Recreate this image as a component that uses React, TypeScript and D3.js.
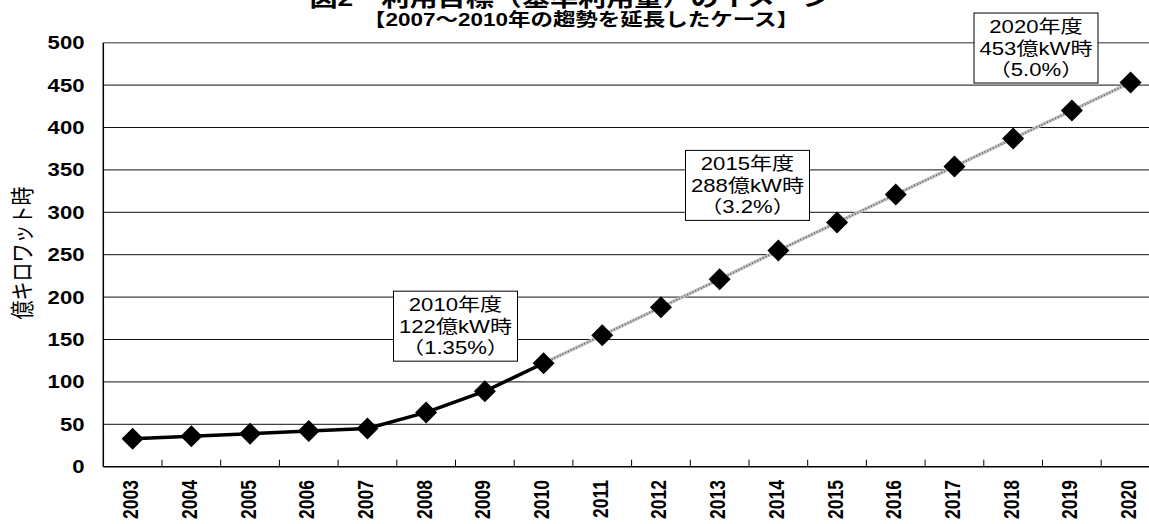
import React, { useEffect, useRef } from 'react';
import * as d3 from 'd3';

// data
const years = ['2003', '2004', '2005', '2006', '2007', '2008', '2009', '2010', '2011',
    '2012', '2013', '2014', '2015', '2016', '2017', '2018', '2019', '2020'];
const values = [33, 36, 39, 42, 45, 64, 89, 122, 155, 188, 221, 255, 288, 321, 354, 387, 420, 453];
const trendStart = '2010';
const yTicks = [0, 50, 100, 150, 200, 250, 300, 350, 400, 450, 500];

const titleText = '図2　利用目標（基準利用量）のイメージ';
const subtitleText = '【2007～2010年の趨勢を延長したケース】';
const yAxisLabel = '億キロワット時';

const calloutYears = ['2009', '2014', '2019'];
const calloutTops = [207, 373, 535];
const calloutLines = [
    ['2010年度', '122億kW時', '（1.35%）'],
    ['2015年度', '288億kW時', '（3.2%）'],
    ['2020年度', '453億kW時', '（5.0%）'],
];

const W = 1149;
const H = 524;
const FONT = "'Liberation Sans', 'Noto Sans CJK JP', sans-serif";
const SX = 1.25; // the reference is stretched horizontally

const App: React.FC = () => {
    const svgRef = useRef<SVGSVGElement>(null);

    useEffect(() => {
        if (!svgRef.current) return;
        const svg = d3.select(svgRef.current);
        svg.selectAll('*').remove();

        const left = 103.3;
        const step = 58.7;
        const top = 42.7;
        const bottom = 466.7;

        const x = d3.scaleBand<string>().domain(years).range([left, left + step * years.length]).padding(0);
        const y = d3.scaleLinear().domain([0, 500]).range([bottom, top]);
        const cx = (yr: string) => (x(yr) ?? 0) + x.bandwidth() / 2;

        svg.append('rect').attr('width', W).attr('height', H).attr('fill', '#fff');

        // title (its top is cut by the frame, as in the source)
        svg.append('text')
            .attr('transform', `translate(570,6) scale(${SX},1)`)
            .attr('text-anchor', 'middle')
            .style('font-family', FONT)
            .style('font-size', '22.5px')
            .style('font-weight', 'bold')
            .text(titleText);

        svg.append('text')
            .attr('transform', `translate(581,26) scale(${SX},1)`)
            .attr('text-anchor', 'middle')
            .style('font-family', FONT)
            .style('font-size', '18px')
            .style('font-weight', 'bold')
            .text(subtitleText);

        // gridlines
        svg.append('g')
            .selectAll('line')
            .data(yTicks.filter(d => d > 0))
            .join('line')
            .attr('x1', left)
            .attr('x2', W + 20)
            .attr('y1', d => y(d))
            .attr('y2', d => y(d))
            .attr('stroke', d => (d === 500 ? '#777' : '#111'))
            .attr('stroke-width', d => (d === 500 ? 1.5 : 1));

        // axes
        svg.append('line')
            .attr('x1', left).attr('x2', left)
            .attr('y1', y(500)).attr('y2', y(0))
            .attr('stroke', '#000').attr('stroke-width', 1.5);
        svg.append('line')
            .attr('x1', left).attr('x2', W + 20)
            .attr('y1', y(0)).attr('y2', y(0))
            .attr('stroke', '#000').attr('stroke-width', 1.5);

        svg.append('g')
            .selectAll('line')
            .data(years.slice(1))
            .join('line')
            .attr('x1', d => x(d) ?? 0)
            .attr('x2', d => x(d) ?? 0)
            .attr('y1', y(0))
            .attr('y2', y(0) - 7)
            .attr('stroke', '#000')
            .attr('stroke-width', 1);

        // y tick labels
        svg.append('g')
            .selectAll('text')
            .data(yTicks)
            .join('text')
            .attr('transform', d => `translate(84.5,${y(d) + 6.4}) scale(${SX},1)`)
            .attr('text-anchor', 'end')
            .style('font-family', FONT)
            .style('font-size', '17.7px')
            .style('font-weight', 'bold')
            .text(d => d);

        // x tick labels
        svg.append('g')
            .selectAll('text')
            .data(years)
            .join('text')
            .attr('transform', d => `translate(${cx(d) + 5.5},480) scale(${SX},1) rotate(-90)`)
            .attr('text-anchor', 'end')
            .style('font-family', FONT)
            .style('font-size', '17.5px')
            .style('font-weight', 'bold')
            .text(d => d);

        // y axis title
        svg.append('text')
            .attr('transform', `translate(31,253) scale(${SX},1) rotate(-90)`)
            .attr('text-anchor', 'middle')
            .style('font-family', FONT)
            .style('font-size', '19px')
            .text(yAxisLabel);

        const pts = years.map((yr, i) => ({ yr, v: values[i], i }));
        const split = years.indexOf(trendStart);
        const line = d3.line<{ yr: string; v: number }>().x(d => cx(d.yr)).y(d => y(d.v));

        // trend part (dotted texture)
        const trend = pts.slice(split);
        svg.append('path')
            .attr('d', line(trend))
            .attr('fill', 'none')
            .attr('stroke', '#c4c4c4')
            .attr('stroke-width', 3.5);
        svg.append('path')
            .attr('d', line(trend))
            .attr('fill', 'none')
            .attr('stroke', '#666')
            .attr('stroke-width', 2)
            .attr('stroke-dasharray', '1 2');

        // actual part
        svg.append('path')
            .attr('d', line(pts.slice(0, split + 1)))
            .attr('fill', 'none')
            .attr('stroke', '#000')
            .attr('stroke-width', 3.5)
            .attr('stroke-linejoin', 'round');

        // markers
        const diamond = d3.symbol().type(d3.symbolSquare).size(242);
        svg.append('g')
            .selectAll('path')
            .data(pts)
            .join('path')
            .attr('d', diamond()!)
            .attr('transform', d => `translate(${cx(d.yr)},${y(d.v)}) rotate(45)`)
            .attr('fill', '#000');

        // callout boxes
        const dxs = [0, -1.5, -6.5];
        calloutYears.forEach((yr, k) => {
            const bx = (x(yr) ?? 0) + dxs[k];
            const by = y(calloutTops[k]);
            const g = svg.append('g');
            g.append('rect')
                .attr('x', bx - 62)
                .attr('y', by)
                .attr('width', 124)
                .attr('height', 70)
                .attr('fill', '#fff')
                .attr('stroke', '#000')
                .attr('stroke-width', 1);
            calloutLines[k].forEach((t, j) => {
                g.append('text')
                    .attr('transform', `translate(${bx},${by + 20 + j * 21.5}) scale(${SX},1)`)
                    .attr('text-anchor', 'middle')
                    .style('font-family', FONT)
                    .style('font-size', '17.7px')
                    .text(t);
            });
        });
    }, []);

    return (
        <svg ref={svgRef} width={W} height={H}
            style={{ position: 'absolute', left: 0, top: 0, display: 'block' }} />
    );
};

export default App;
